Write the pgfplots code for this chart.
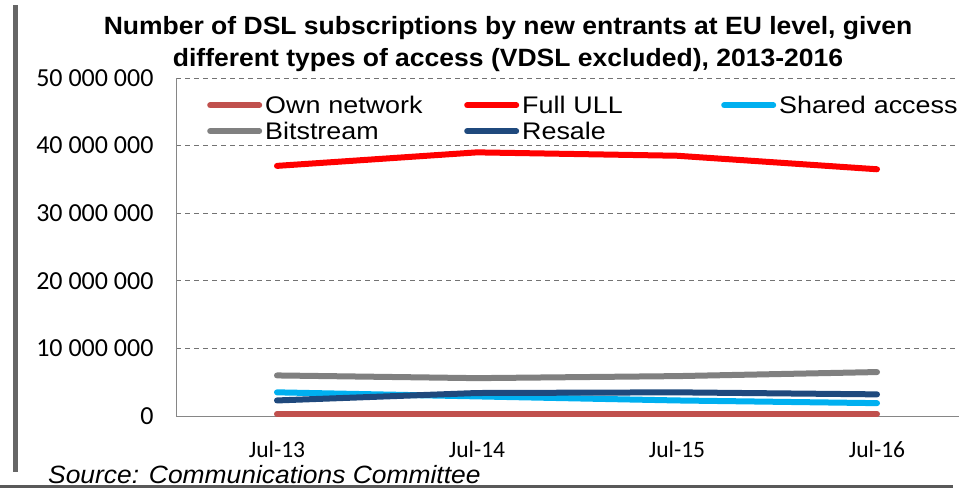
\documentclass[border=0pt]{standalone}
\usepackage{pgfplots}
\pgfplotsset{compat=1.18}
\usepackage{fontspec}
\setmainfont{Liberation Sans}
\newfontfamily\carlito{Carlito}
\newfontfamily\legfont[FakeStretch=1.12]{Liberation Sans}
\newfontfamily\titlefont[FakeStretch=1.06]{Liberation Sans}
\newfontfamily\srcfont[FakeStretch=1.056]{Liberation Sans}
\definecolor{ownc}{HTML}{C0504D}
\definecolor{fullc}{HTML}{FF0000}
\definecolor{sharedc}{HTML}{00B0F0}
\definecolor{bitc}{HTML}{808080}
\definecolor{resc}{HTML}{1F497D}
\definecolor{axc}{HTML}{868686}
\begin{document}
\begin{tikzpicture}[x=1pt,y=1pt]
\useasboundingbox (0,0) rectangle (959,488);
\fill[black!60] (13,16) rectangle (18,483);
\fill[black!65] (0,0) rectangle (953,3);
\node[anchor=base west, inner sep=0pt, font=\srcfont\itshape\fontsize{25}{25}\selectfont] at (48,5) {Source: Communications Committee};
\node[align=center, inner sep=0pt, font=\titlefont\bfseries\fontsize{25}{32}\selectfont] at (508,444) {Number of DSL subscriptions by new entrants at EU level, given\\different types of access (VDSL excluded), 2013-2016};
\begin{axis}[
  at={(176pt,72pt)}, anchor=south west,
  scale only axis, width=783pt, height=338pt,
  xmin=-0.505, xmax=3.41, ymin=0, ymax=50000000,
  scaled y ticks=false,
  axis x line*=bottom, axis y line*=left,
  axis line style={axc, line width=1pt},
  x axis line style={-}, y axis line style={-},
  xtick={0,1,2,3}, xticklabels={Jul-13,Jul-14,Jul-15,Jul-16},
  ytick={0,10000000,20000000,30000000,40000000,50000000},
  yticklabels={0,10 000 000,20 000 000,30 000 000,40 000 000,50 000 000},
  major tick length=0pt,
  xticklabel style={font=\carlito\fontsize{23.5}{23.5}\selectfont, inner sep=0pt, yshift=-25pt},
  yticklabel style={font=\carlito\fontsize{26}{26}\selectfont, xshift=-19pt},
  ymajorgrids, grid style={dash pattern=on 5pt off 4pt, black!55, line width=1pt},
  legend columns=3,
  legend style={draw=none, fill=none, at={(axis description cs:0.0396,0.951)}, anchor=north west,
    font=\legfont\fontsize{24}{24}\selectfont, inner sep=0pt, row sep=5pt,
    /tikz/every even column/.append style={column sep=0pt},
    nodes={text width=196pt, align=left, inner xsep=3pt, inner ysep=1pt}},
  legend image code/.code={\draw[line width=6pt, line cap=round, #1] (3pt,0pt) -- (52pt,0pt);},
  every axis plot/.append style={line width=6pt, line cap=round, line join=round, mark=none},
  clip=false,
]
\addplot[ownc] coordinates {(0,300000) (1,300000) (2,300000) (3,300000)};
\addlegendentry{Own network}
\addplot[fullc] coordinates {(0,37000000) (1,39000000) (2,38500000) (3,36500000)};
\addlegendentry{Full ULL}
\addplot[sharedc] coordinates {(0,3500000) (1,2900000) (2,2300000) (3,1900000)};
\addlegendentry{Shared access}
\addplot[bitc] coordinates {(0,6000000) (1,5600000) (2,5900000) (3,6500000)};
\addlegendentry{Bitstream}
\addplot[resc] coordinates {(0,2300000) (1,3400000) (2,3500000) (3,3200000)};
\addlegendentry{Resale}
\end{axis}
\end{tikzpicture}
\end{document}
